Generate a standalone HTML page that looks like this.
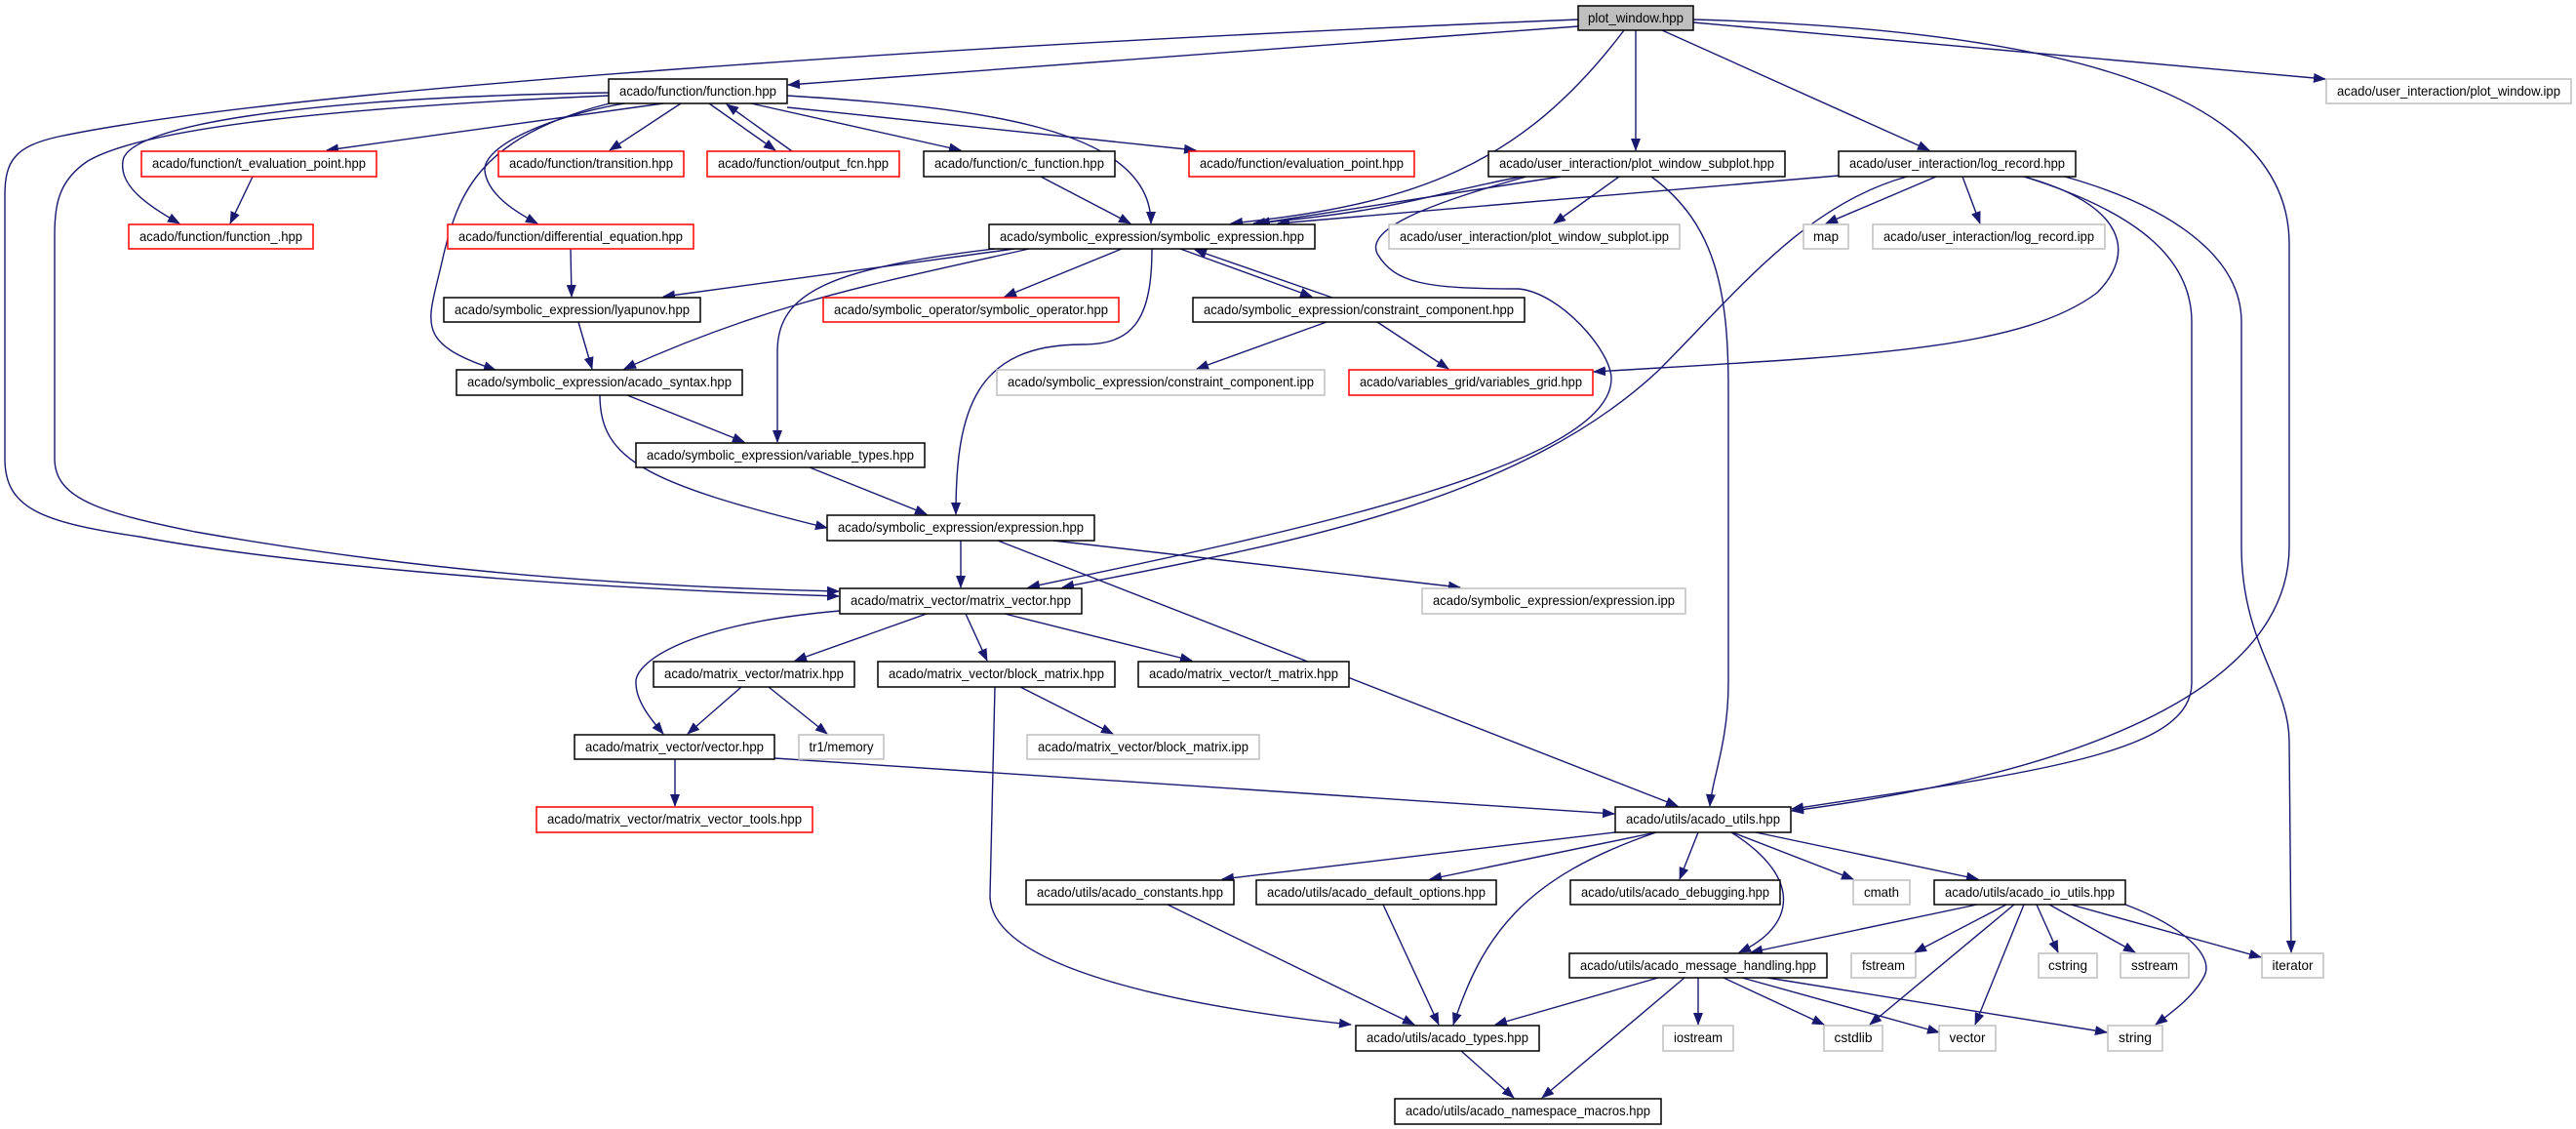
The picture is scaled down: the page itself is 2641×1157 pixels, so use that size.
<!DOCTYPE html>
<html><head><meta charset="utf-8"><style>
html,body{margin:0;padding:0;background:#fff;width:2641px;height:1157px;overflow:hidden}
svg{display:block}
text{font-family:"Liberation Sans",sans-serif;font-size:14px;fill:#000;text-anchor:middle}
.e{fill:none;stroke:#191970;stroke-width:1.4}
.n{fill:#fff;stroke:#000;stroke-width:1.5}
.r{fill:#fff;stroke:#f00;stroke-width:1.5}
.g{fill:#fff;stroke:#bfbfbf;stroke-width:1.5}
</style></head><body>
<svg width="2641" height="1157" viewBox="0 0 2641 1157" xmlns="http://www.w3.org/2000/svg">
<defs><marker id="a" markerUnits="userSpaceOnUse" markerWidth="13" markerHeight="10" refX="12" refY="5" orient="auto"><path d="M0,0 L13,5 L0,10 z" fill="#191970"/></marker></defs>
<g class="e" marker-end="url(#a)">
<!-- plot_window -->
<path d="M1618,27 L808,87"/>
<path d="M1618,20 C1000,45 300,90 60,140 C15,150 5,165 5,200 L5,470 C5,520 40,535 143,550 C250,570 500,600 860,611"/>
<path d="M1665,31 C1560,170 1450,210 1262,229"/>
<path d="M1677,31 L1677,154"/>
<path d="M1704,31 L1978,154"/>
<path d="M1736,23 L2384,81"/>
<path d="M1736,20 C2100,30 2347,90 2347,250 L2347,560 C2347,700 2150,790 1837,831"/>
<!-- log_record -->
<path d="M1885,180 L1310,229"/>
<path d="M1985,181 L1872,229"/>
<path d="M2012,181 L2030,229"/>
<path d="M2075,181 C2180,210 2190,260 2150,300 C2070,360 1900,365 1634,381"/>
<path d="M1955,181 C1850,210 1780,300 1700,380 C1550,520 1300,560 1089,602"/>
<path d="M2075,181 C2200,220 2247,270 2247,330 L2247,700 C2247,770 2100,790 1837,829"/>
<path d="M2117,181 C2220,210 2298,260 2298,330 L2298,560 C2298,660 2347,700 2347,760 L2349,976"/>
<!-- plot_window_subplot -->
<path d="M1600,181 L1290,229"/>
<path d="M1560,181 C1460,200 1440,215 1285,229"/>
<path d="M1660,181 L1593,229"/>
<path d="M1693,181 C1760,230 1772,300 1772,400 L1772,700 C1772,760 1755,800 1753,826"/>
<path d="M1565,181 C1460,210 1400,235 1412,260 C1430,290 1460,296 1557,296 C1600,300 1652,360 1652,388 C1652,480 1300,550 1054,602"/>
<!-- function.hpp -->
<path d="M680,106 L335,154"/>
<path d="M624,95 C300,100 130,130 126,165 C122,190 150,210 184,229"/>
<path d="M624,98 C350,110 150,130 90,165 C60,185 56,210 56,240 L56,470 C56,510 100,525 200,545 C400,580 600,600 860,606"/>
<path d="M698,106 L625,154"/>
<path d="M727,106 L795,154"/>
<path d="M812,155 L745,107"/>
<path d="M770,106 L985,154"/>
<path d="M807,110 L1226,154"/>
<path d="M807,98 C1000,110 1180,130 1180,229"/>
<path d="M640,106 C560,120 495,150 497,175 C500,200 530,218 551,229"/>
<path d="M625,106 C490,140 470,200 455,260 C440,330 420,350 508,379"/>
<path d="M259,181 L236,229"/>
<path d="M1067,181 L1159,229"/>
<path d="M585,255 L586,304"/>
<!-- symbolic_expression -->
<path d="M1040,255 L680,304"/>
<path d="M1055,255 C900,290 790,310 640,378"/>
<path d="M1020,255 C850,275 797,300 797,360 L797,453"/>
<path d="M1150,255 L1030,304"/>
<path d="M1210,255 L1345,304"/>
<path d="M1366,305 L1225,256"/>
<path d="M1181,255 C1181,330 1160,353 1110,353 C1000,353 980,420 980,527"/>
<path d="M593,330 L607,378"/>
<path d="M643,405 L763,453"/>
<path d="M615,405 C615,470 660,495 848,541"/>
<path d="M830,479 L950,527"/>
<path d="M1360,330 L1227,378"/>
<path d="M1412,330 L1485,378"/>
<!-- expression -->
<path d="M985,554 L985,602"/>
<path d="M1080,554 L1497,602"/>
<path d="M1023,554 L1720,826"/>
<!-- matrix_vector -->
<path d="M950,629 L815,677"/>
<path d="M990,629 L1012,677"/>
<path d="M1030,629 L1222,677"/>
<path d="M861,626 C700,640 650,680 652,700 C652,720 670,740 680,752"/>
<path d="M760,704 L705,752"/>
<path d="M788,704 L848,752"/>
<path d="M1046,704 L1141,752"/>
<path d="M1020,704 L1015,918 C1015,990 1200,1030 1385,1050"/>
<path d="M692,778 L692,826"/>
<path d="M794,777 L1655,834"/>
<!-- acado_utils -->
<path d="M1656,853 L1253,901"/>
<path d="M1698,853 L1466,901"/>
<path d="M1698,853 C1560,900 1520,960 1490,1050"/>
<path d="M1741,853 L1722,901"/>
<path d="M1775,853 C1850,900 1840,950 1783,976"/>
<path d="M1776,853 L1900,901"/>
<path d="M1800,853 L2028,901"/>
<path d="M1197,927 L1450,1050"/>
<path d="M1418,927 L1475,1050"/>
<!-- io_utils -->
<path d="M2027,927 L1795,976"/>
<path d="M2057,927 L1963,976"/>
<path d="M2065,927 L1917,1050"/>
<path d="M2075,927 L2025,1050"/>
<path d="M2088,927 L2110,976"/>
<path d="M2101,927 L2189,976"/>
<path d="M2123,927 L2318,981"/>
<path d="M2179,927 C2240,950 2270,980 2260,1000 C2250,1020 2230,1035 2210,1050"/>
<!-- message_handling -->
<path d="M1700,1002 L1533,1050"/>
<path d="M1727,1002 L1581,1125"/>
<path d="M1741,1002 L1741,1050"/>
<path d="M1767,1002 L1870,1050"/>
<path d="M1786,1002 L1988,1058"/>
<path d="M1812,1002 L2160,1058"/>
<path d="M1498,1077 L1552,1125"/>
</g>
<g>
<rect x="1618" y="6" width="118" height="25" fill="#bfbfbf" stroke="#000" stroke-width="1.5"/><text x="1677" y="23" textLength="98" lengthAdjust="spacingAndGlyphs">plot_window.hpp</text>
<rect class="n" x="624" y="81" width="183" height="25"/><text x="715.5" y="98" textLength="161" lengthAdjust="spacingAndGlyphs">acado/function/function.hpp</text>
<rect class="g" x="2385" y="81" width="251" height="25"/><text x="2510.5" y="98" textLength="229" lengthAdjust="spacingAndGlyphs">acado/user_interaction/plot_window.ipp</text>
<rect class="r" x="145" y="155" width="241" height="26"/><text x="265.5" y="172" textLength="219" lengthAdjust="spacingAndGlyphs">acado/function/t_evaluation_point.hpp</text>
<rect class="r" x="511" y="155" width="190" height="26"/><text x="606" y="172" textLength="168" lengthAdjust="spacingAndGlyphs">acado/function/transition.hpp</text>
<rect class="r" x="725" y="155" width="197" height="26"/><text x="823.5" y="172" textLength="175" lengthAdjust="spacingAndGlyphs">acado/function/output_fcn.hpp</text>
<rect class="n" x="947" y="155" width="196" height="26"/><text x="1045" y="172" textLength="174" lengthAdjust="spacingAndGlyphs">acado/function/c_function.hpp</text>
<rect class="r" x="1219" y="155" width="231" height="26"/><text x="1334.5" y="172" textLength="209" lengthAdjust="spacingAndGlyphs">acado/function/evaluation_point.hpp</text>
<rect class="n" x="1526" y="155" width="304" height="26"/><text x="1678" y="172" textLength="282" lengthAdjust="spacingAndGlyphs">acado/user_interaction/plot_window_subplot.hpp</text>
<rect class="n" x="1885" y="155" width="243" height="26"/><text x="2006.5" y="172" textLength="221" lengthAdjust="spacingAndGlyphs">acado/user_interaction/log_record.hpp</text>
<rect class="r" x="132" y="230" width="189" height="25"/><text x="226.5" y="247" textLength="167" lengthAdjust="spacingAndGlyphs">acado/function/function_.hpp</text>
<rect class="r" x="459" y="230" width="252" height="25"/><text x="585" y="247" textLength="230" lengthAdjust="spacingAndGlyphs">acado/function/differential_equation.hpp</text>
<rect class="n" x="1014" y="230" width="334" height="25"/><text x="1181" y="247" textLength="312" lengthAdjust="spacingAndGlyphs">acado/symbolic_expression/symbolic_expression.hpp</text>
<rect class="g" x="1424" y="230" width="298" height="25"/><text x="1573" y="247" textLength="276" lengthAdjust="spacingAndGlyphs">acado/user_interaction/plot_window_subplot.ipp</text>
<rect class="g" x="1849" y="230" width="46" height="25"/><text x="1872" y="247" textLength="26" lengthAdjust="spacingAndGlyphs">map</text>
<rect class="g" x="1920" y="230" width="238" height="25"/><text x="2039" y="247" textLength="216" lengthAdjust="spacingAndGlyphs">acado/user_interaction/log_record.ipp</text>
<rect class="n" x="455" y="305" width="263" height="25"/><text x="586.5" y="322" textLength="241" lengthAdjust="spacingAndGlyphs">acado/symbolic_expression/lyapunov.hpp</text>
<rect class="r" x="844" y="305" width="303" height="25"/><text x="995.5" y="322" textLength="281" lengthAdjust="spacingAndGlyphs">acado/symbolic_operator/symbolic_operator.hpp</text>
<rect class="n" x="1223" y="305" width="340" height="25"/><text x="1393" y="322" textLength="318" lengthAdjust="spacingAndGlyphs">acado/symbolic_expression/constraint_component.hpp</text>
<rect class="n" x="468" y="379" width="293" height="26"/><text x="614.5" y="396" textLength="271" lengthAdjust="spacingAndGlyphs">acado/symbolic_expression/acado_syntax.hpp</text>
<rect class="g" x="1022" y="379" width="336" height="26"/><text x="1190" y="396" textLength="314" lengthAdjust="spacingAndGlyphs">acado/symbolic_expression/constraint_component.ipp</text>
<rect class="r" x="1383" y="379" width="250" height="26"/><text x="1508" y="396" textLength="228" lengthAdjust="spacingAndGlyphs">acado/variables_grid/variables_grid.hpp</text>
<rect class="n" x="652" y="454" width="296" height="25"/><text x="800" y="471" textLength="274" lengthAdjust="spacingAndGlyphs">acado/symbolic_expression/variable_types.hpp</text>
<rect class="n" x="848" y="528" width="274" height="26"/><text x="985" y="545" textLength="252" lengthAdjust="spacingAndGlyphs">acado/symbolic_expression/expression.hpp</text>
<rect class="n" x="861" y="603" width="248" height="26"/><text x="985" y="620" textLength="226" lengthAdjust="spacingAndGlyphs">acado/matrix_vector/matrix_vector.hpp</text>
<rect class="g" x="1458" y="603" width="270" height="26"/><text x="1593" y="620" textLength="248" lengthAdjust="spacingAndGlyphs">acado/symbolic_expression/expression.ipp</text>
<rect class="n" x="670" y="678" width="206" height="26"/><text x="773" y="695" textLength="184" lengthAdjust="spacingAndGlyphs">acado/matrix_vector/matrix.hpp</text>
<rect class="n" x="900" y="678" width="243" height="26"/><text x="1021.5" y="695" textLength="221" lengthAdjust="spacingAndGlyphs">acado/matrix_vector/block_matrix.hpp</text>
<rect class="n" x="1167" y="678" width="216" height="26"/><text x="1275" y="695" textLength="194" lengthAdjust="spacingAndGlyphs">acado/matrix_vector/t_matrix.hpp</text>
<rect class="n" x="589" y="753" width="205" height="25"/><text x="691.5" y="770" textLength="183" lengthAdjust="spacingAndGlyphs">acado/matrix_vector/vector.hpp</text>
<rect class="g" x="819" y="753" width="87" height="25"/><text x="862.5" y="770" textLength="66" lengthAdjust="spacingAndGlyphs">tr1/memory</text>
<rect class="g" x="1053" y="753" width="238" height="25"/><text x="1172" y="770" textLength="216" lengthAdjust="spacingAndGlyphs">acado/matrix_vector/block_matrix.ipp</text>
<rect class="r" x="550" y="827" width="283" height="26"/><text x="691.5" y="844" textLength="261" lengthAdjust="spacingAndGlyphs">acado/matrix_vector/matrix_vector_tools.hpp</text>
<rect class="n" x="1656" y="827" width="180" height="26"/><text x="1746" y="844" textLength="158" lengthAdjust="spacingAndGlyphs">acado/utils/acado_utils.hpp</text>
<rect class="n" x="1052" y="902" width="213" height="25"/><text x="1158.5" y="919" textLength="191" lengthAdjust="spacingAndGlyphs">acado/utils/acado_constants.hpp</text>
<rect class="n" x="1288" y="902" width="246" height="25"/><text x="1411" y="919" textLength="224" lengthAdjust="spacingAndGlyphs">acado/utils/acado_default_options.hpp</text>
<rect class="n" x="1610" y="902" width="215" height="25"/><text x="1717.5" y="919" textLength="193" lengthAdjust="spacingAndGlyphs">acado/utils/acado_debugging.hpp</text>
<rect class="g" x="1900" y="902" width="58" height="25"/><text x="1929" y="919" textLength="36" lengthAdjust="spacingAndGlyphs">cmath</text>
<rect class="n" x="1983" y="902" width="196" height="25"/><text x="2081" y="919" textLength="174" lengthAdjust="spacingAndGlyphs">acado/utils/acado_io_utils.hpp</text>
<rect class="n" x="1609" y="977" width="264" height="25"/><text x="1741" y="994" textLength="242" lengthAdjust="spacingAndGlyphs">acado/utils/acado_message_handling.hpp</text>
<rect class="g" x="1898" y="977" width="66" height="25"/><text x="1931" y="994" textLength="44" lengthAdjust="spacingAndGlyphs">fstream</text>
<rect class="g" x="2090" y="977" width="60" height="25"/><text x="2120" y="994" textLength="40" lengthAdjust="spacingAndGlyphs">cstring</text>
<rect class="g" x="2174" y="977" width="70" height="25"/><text x="2209" y="994" textLength="48" lengthAdjust="spacingAndGlyphs">sstream</text>
<rect class="g" x="2319" y="977" width="63" height="25"/><text x="2350.5" y="994" textLength="42" lengthAdjust="spacingAndGlyphs">iterator</text>
<rect class="n" x="1390" y="1051" width="188" height="26"/><text x="1484" y="1068" textLength="166" lengthAdjust="spacingAndGlyphs">acado/utils/acado_types.hpp</text>
<rect class="g" x="1705" y="1051" width="72" height="26"/><text x="1741" y="1068" textLength="50" lengthAdjust="spacingAndGlyphs">iostream</text>
<rect class="g" x="1870" y="1051" width="60" height="26"/><text x="1900" y="1068" textLength="39" lengthAdjust="spacingAndGlyphs">cstdlib</text>
<rect class="g" x="1988" y="1051" width="58" height="26"/><text x="2017" y="1068" textLength="37" lengthAdjust="spacingAndGlyphs">vector</text>
<rect class="g" x="2161" y="1051" width="56" height="26"/><text x="2189" y="1068" textLength="34" lengthAdjust="spacingAndGlyphs">string</text>
<rect class="n" x="1430" y="1126" width="273" height="26"/><text x="1566.5" y="1143" textLength="251" lengthAdjust="spacingAndGlyphs">acado/utils/acado_namespace_macros.hpp</text>
</g>
</svg>
</body></html>
